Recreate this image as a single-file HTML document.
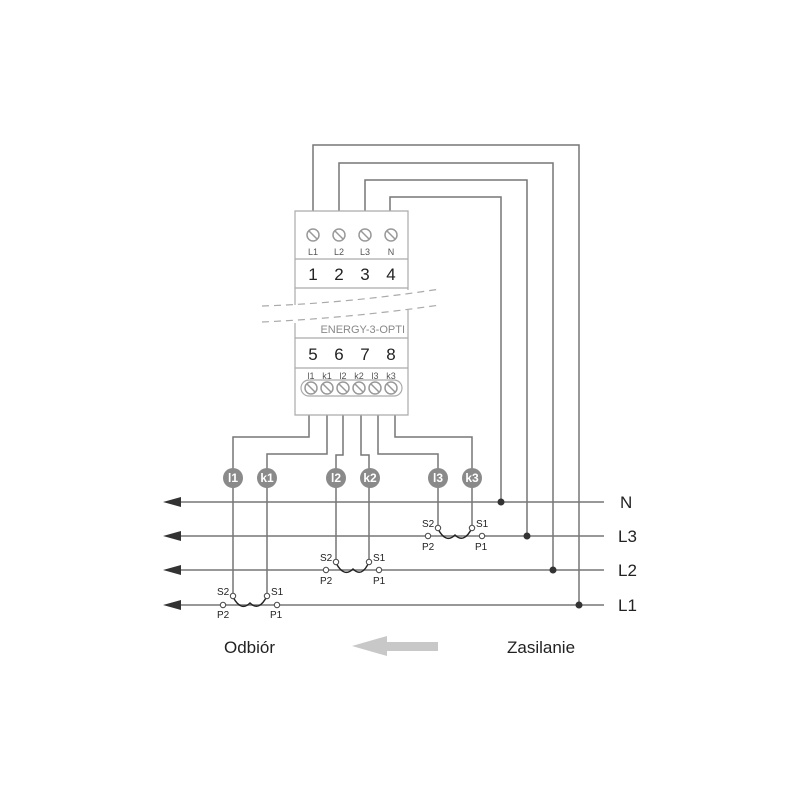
<!DOCTYPE html>
<html><head><meta charset="utf-8"><style>body{margin:0;background:#fff}svg{display:block}</style></head>
<body>
<svg width="800" height="800" viewBox="0 0 800 800" xmlns="http://www.w3.org/2000/svg" font-family="Liberation Sans, sans-serif">
<rect width="800" height="800" fill="#fff"/>
<g fill="none" stroke="#777" stroke-width="1.5">
<!-- top wires -->
<polyline points="313,212 313,145 579,145 579,605"/>
<polyline points="339,212 339,163 553,163 553,570"/>
<polyline points="365,212 365,180 527,180 527,536"/>
<polyline points="390,212 390,197 501,197 501,502"/>
<!-- mains -->
<line x1="175" y1="502" x2="604" y2="502"/>
<line x1="175" y1="536" x2="604" y2="536"/>
<line x1="175" y1="570" x2="604" y2="570"/>
<line x1="175" y1="605" x2="604" y2="605"/>
<!-- bottom wires -->
<polyline points="309,415 309,437 233,437 233,597"/>
<polyline points="327,415 327,454 267,454 267,596"/>
<polyline points="343,415 343,455 336,455 336,563"/>
<polyline points="361,415 361,455 369,455 369,562"/>
<polyline points="378,415 378,454 438,454 438,529"/>
<polyline points="395,415 395,437 472,437 472,528"/>
</g>
<!-- arrows left -->
<g fill="#333">
<polygon points="163,502 181,497 181,507"/>
<polygon points="163,536 181,531 181,541"/>
<polygon points="163,570 181,565 181,575"/>
<polygon points="163,605 181,600 181,610"/>
<circle cx="501" cy="502" r="3.5"/><circle cx="527" cy="536" r="3.5"/>
<circle cx="553" cy="570" r="3.5"/><circle cx="579" cy="605" r="3.5"/>
</g>
<!-- device -->
<g fill="#fff" stroke="#aaa" stroke-width="1.2">
<path d="M295,305 L295,211 L408,211 L408,290"/>
<path d="M295,323 L295,415 L408,415 L408,310"/>
<line x1="295" y1="259" x2="408" y2="259"/>
<line x1="295" y1="288" x2="408" y2="288"/>
<line x1="295" y1="338" x2="408" y2="338"/>
<line x1="295" y1="368" x2="408" y2="368"/>
<rect x="301" y="380" width="101" height="16" rx="8"/>
</g>
<g stroke="#aaa" stroke-width="1.2" fill="none" stroke-dasharray="7,5">
<path d="M262,306 Q350,303 440,289"/>
<path d="M262,322 Q350,318 440,305"/>
</g>
<g stroke="#999" stroke-width="1.5" fill="#fff">
<circle cx="313" cy="235" r="6"/><circle cx="339" cy="235" r="6"/><circle cx="365" cy="235" r="6"/><circle cx="391" cy="235" r="6"/>
<circle cx="311" cy="388" r="6"/><circle cx="327" cy="388" r="6"/><circle cx="343" cy="388" r="6"/><circle cx="359" cy="388" r="6"/><circle cx="375" cy="388" r="6"/><circle cx="391" cy="388" r="6"/>
</g>
<g stroke="#999" stroke-width="1.5">
<line x1="309" y1="231" x2="317" y2="239"/><line x1="335" y1="231" x2="343" y2="239"/><line x1="361" y1="231" x2="369" y2="239"/><line x1="387" y1="231" x2="395" y2="239"/>
<line x1="307" y1="384" x2="315" y2="392"/><line x1="323" y1="384" x2="331" y2="392"/><line x1="339" y1="384" x2="347" y2="392"/><line x1="355" y1="384" x2="363" y2="392"/><line x1="371" y1="384" x2="379" y2="392"/><line x1="387" y1="384" x2="395" y2="392"/>
</g>
<g fill="#555" font-size="9" text-anchor="middle">
<text x="313" y="255">L1</text><text x="339" y="255">L2</text><text x="365" y="255">L3</text><text x="391" y="255">N</text>
<text x="311" y="379">l1</text><text x="327" y="379">k1</text><text x="343" y="379">l2</text><text x="359" y="379">k2</text><text x="375" y="379">l3</text><text x="391" y="379">k3</text>
</g>
<g fill="#222" font-size="17" text-anchor="middle">
<text x="313" y="280">1</text><text x="339" y="280">2</text><text x="365" y="280">3</text><text x="391" y="280">4</text>
<text x="313" y="360">5</text><text x="339" y="360">6</text><text x="365" y="360">7</text><text x="391" y="360">8</text>
</g>
<text x="405" y="333" fill="#888" font-size="11" text-anchor="end">ENERGY-3-OPTI</text>
<!-- labelled circles -->
<g fill="#8a8a8a">
<circle cx="233" cy="478" r="10"/><circle cx="267" cy="478" r="10"/><circle cx="336" cy="478" r="10"/><circle cx="370" cy="478" r="10"/><circle cx="438" cy="478" r="10"/><circle cx="472" cy="478" r="10"/>
</g>
<g fill="#fff" font-size="12" font-weight="bold" text-anchor="middle">
<text x="233" y="482">l1</text><text x="267" y="482">k1</text><text x="336" y="482">l2</text><text x="370" y="482">k2</text><text x="438" y="482">l3</text><text x="472" y="482">k3</text>
</g>
<!-- CTs -->
<g id="ct" fill="none" stroke="#222" stroke-width="1.4">
<path d="M233,597 Q241,612 250,603 Q259,612 267,596"/>
<path d="M336,563 Q344,578 353,569 Q362,578 369,562"/>
<path d="M438,529 Q446,544 455,535 Q464,544 472,528"/>
</g>
<g fill="#fff" stroke="#444" stroke-width="1">
<circle cx="233" cy="596" r="2.7"/><circle cx="267" cy="596" r="2.7"/><circle cx="223" cy="605" r="2.7"/><circle cx="277" cy="605" r="2.7"/>
<circle cx="336" cy="562" r="2.7"/><circle cx="369" cy="562" r="2.7"/><circle cx="326" cy="570" r="2.7"/><circle cx="379" cy="570" r="2.7"/>
<circle cx="438" cy="528" r="2.7"/><circle cx="472" cy="528" r="2.7"/><circle cx="428" cy="536" r="2.7"/><circle cx="482" cy="536" r="2.7"/>
</g>
<g fill="#222" font-size="10">
<text x="217" y="595">S2</text><text x="271" y="595">S1</text><text x="217" y="618">P2</text><text x="270" y="618">P1</text>
<text x="320" y="561">S2</text><text x="373" y="561">S1</text><text x="320" y="584">P2</text><text x="373" y="584">P1</text>
<text x="422" y="527">S2</text><text x="476" y="527">S1</text><text x="422" y="550">P2</text><text x="475" y="550">P1</text>
</g>
<g fill="#222" font-size="17">
<text x="620" y="508">N</text><text x="618" y="542">L3</text><text x="618" y="576">L2</text><text x="618" y="611">L1</text>
<text x="224" y="653">Odbiór</text><text x="507" y="653">Zasilanie</text>
</g>
<polygon points="352,646 387,636 387,642 438,642 438,651 387,651 387,656" fill="#c8c8c8"/>
</svg>
</body></html>
